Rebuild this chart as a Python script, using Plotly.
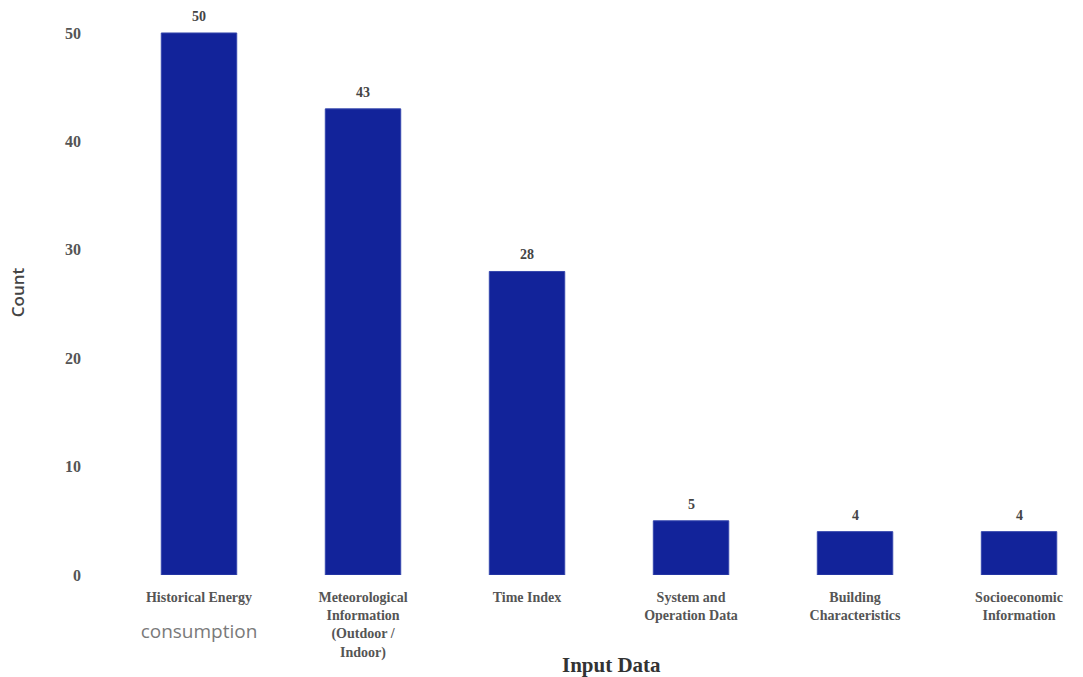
import plotly.graph_objects as go

categories = [
    "Historical Energy<br><br><span style='font-family:Open Sans;font-size:19px;font-weight:normal;fill:#7a7a7a'>consumption</span>",
    "Meteorological<br>Information<br>(Outdoor /<br>Indoor)",
    "Time Index",
    "System and<br>Operation Data",
    "Building<br>Characteristics",
    "Socioeconomic<br>Information",
]
counts = [50, 43, 28, 5, 4, 4]
y_ticks = [0, 10, 20, 30, 40, 50]

serif = "Liberation Serif"
bar_color = "#12239a"

fig = go.Figure(
    go.Bar(
        x=list(range(len(categories))),
        y=counts,
        marker=dict(color=bar_color, line=dict(color="#3546ad", width=1)),
        width=0.46,
        hoverinfo="skip",
    )
)

# value labels above each bar
for i, v in enumerate(counts):
    fig.add_annotation(
        x=i, y=v, text=str(v), showarrow=False, yanchor="bottom", yshift=7,
        font=dict(family=serif, size=14, color="#444444", weight="bold"),
    )

# x-axis title
fig.add_annotation(
    xref="paper", yref="paper", x=0.512, y=-0.159,
    text="Input Data", showarrow=False, xanchor="center", yanchor="middle",
    font=dict(family=serif, size=21, color="#333333", weight="bold"),
)

fig.update_layout(
    width=1083, height=677,
    margin=dict(l=117, r=0, t=10, b=102),
    paper_bgcolor="white", plot_bgcolor="white",
    showlegend=False,
    xaxis=dict(
        range=[-0.5, 5.39],
        tickmode="array",
        tickvals=list(range(len(categories))),
        ticktext=categories,
        showgrid=False, zeroline=False, showline=False, ticks="",
        ticklabelstandoff=12,
        tickfont=dict(family=serif, size=14, color="#555555", weight="bold"),
    ),
    yaxis=dict(
        range=[0, 52.12],
        tickvals=y_ticks,
        showgrid=False, zeroline=False, showline=False, ticks="",
        ticklabelstandoff=35,
        tickfont=dict(family=serif, size=16, color="#555555", weight="bold"),
        title=dict(text="Count", standoff=36,
                   font=dict(family="Open Sans", size=17, color="#444444", weight=600)),
    ),
)

fig.write_html("out.html")
